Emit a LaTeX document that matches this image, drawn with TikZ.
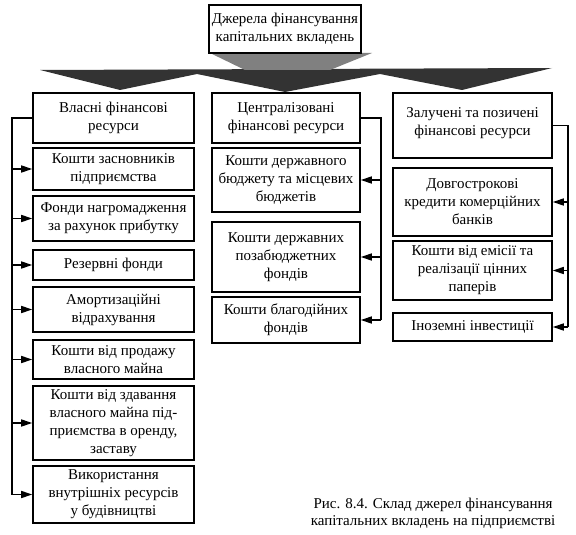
\documentclass[tikz,border=0pt]{standalone}
\usepackage{fontspec}
\setmainfont{Liberation Serif}
\usetikzlibrary{arrows.meta}
\begin{document}
\begin{tikzpicture}[x=1pt,y=-1pt,
  box/.style={draw, line width=1.6pt, align=center, inner sep=1pt,
    font=\fontsize{15}{18}\selectfont},
  lbox/.style={box, minimum width=161pt},
  mbox/.style={box, minimum width=148pt},
  rbox/.style={box, minimum width=159pt},
  link/.style={line width=1.6pt},
  arr/.style={link, -{Triangle[length=11pt,width=7pt]}},
  captext/.style={align=center, font=\fontsize{15}{17}\selectfont}]
\useasboundingbox (0,0) rectangle (576,535);
% banner
\fill[black!80] (40,70) -- (552,68) -- (462,90) -- (380,74) -- (285,92) -- (197,74) -- (120,90) -- cycle;
\fill[black!50] (210,53) -- (372,53) -- (330,70) -- (245,70) -- cycle;
% top
\node[box, fill=white, minimum width=152pt, minimum height=48pt] (t) at (285,29) {Джерела фінансування\\капітальних вкладень};
% left column
\node[lbox, minimum height=50pt] (l1) at (113.5,118) {Власні фінансові\\ресурси};
\node[lbox, minimum height=42pt] (l2) at (113.5,169) {Кошти засновників\\підприємства};
\node[lbox, minimum height=45pt] (l3) at (113.5,218.5) {Фонди нагромадження\\за рахунок прибутку};
\node[lbox, minimum height=30pt] (l4) at (113.5,265) {Резервні фонди};
\node[lbox, minimum height=45pt] (l5) at (113.5,309.5) {Амортизаційні\\відрахування};
\node[lbox, minimum height=39pt] (l6) at (113.5,359.5) {Кошти від продажу\\власного майна};
\node[lbox, minimum height=74pt] (l7) at (113.5,423) {Кошти від здавання\\власного майна під-\\приємства в оренду,\\заставу};
\node[lbox, minimum height=57pt] (l8) at (113.5,494.5) {Використання\\внутрішніх ресурсів\\у будівництві};
% middle column
\node[mbox, minimum height=50pt] (m1) at (286,118) {Централізовані\\фінансові ресурси};
\node[mbox, minimum height=64pt] (m2) at (286,180) {Кошти державного\\бюджету та місцевих\\бюджетів};
\node[mbox, minimum height=70pt] (m3) at (286,257) {Кошти державних\\позабюджетних\\фондів};
\node[mbox, minimum height=46pt] (m4) at (286,320) {Кошти благодійних\\фондів};
% right column
\node[rbox, minimum height=65pt] (r1) at (472.5,125.5) {Залучені та позичені\\фінансові ресурси\\[-10pt]\mbox{}};
\node[rbox, minimum height=68pt] (r2) at (472.5,202) {Довгострокові\\кредити комерційних\\банків};
\node[rbox, minimum height=59pt] (r3) at (472.5,270.5) {Кошти від емісії та\\реалізації цінних\\паперів};
\node[rbox, minimum height=28pt] (r4) at (472.5,327) {Іноземні інвестиції};
% left bracket
\coordinate (lt) at (12,118);
\coordinate (lb) at (12,494.5);
\draw[link] (l1.west) -- (lt) -- (lb);
\foreach \n in {l2,l3,l4,l5,l6,l7,l8} \draw[arr] (\n.west -| lt) -- (\n.west);
% middle bracket
\coordinate (mt) at (381,118);
\coordinate (mb) at (381,320);
\draw[link] (m1.east) -- (mt) -- (mb);
\foreach \n in {m2,m3,m4} \draw[arr] (\n.east -| mt) -- (\n.east);
% right bracket
\coordinate (rt) at (568,125.5);
\coordinate (rb) at (568,327);
\draw[link] (r1.east) -- (rt) -- (rb);
\foreach \n in {r2,r3,r4} \draw[arr] (\n.east -| rt) -- (\n.east);
% caption
\node[captext] (c) at (433,513) {Рис. 8.4. Склад джерел фінансування\\капітальних вкладень на підприємстві};
\end{tikzpicture}
\end{document}
